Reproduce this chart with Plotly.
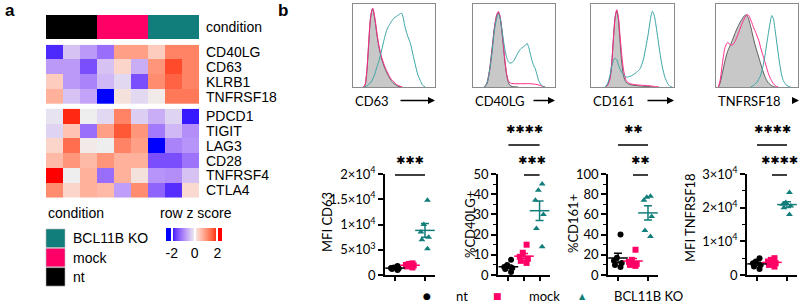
import numpy as np
import plotly.graph_objects as go

# ---------------- data ----------------
conditions = ["nt", "mock", "BCL11B KO"]
samples_condition = [0, 0, 0, 1, 1, 1, 2, 2, 2]

genes_top = ["CD40LG", "CD63", "KLRB1", "TNFRSF18"]
z_top = [
    [-1.8, -0.4, -0.8, -1.2, 0.9, 0.9, 0.4, 1.2, 1.2],
    [-0.8, -0.8, -1.5, -0.4, 0.3, -0.6, 1.0, 1.7, 1.2],
    [0.4, -0.8, -1.0, -0.5, -0.2, -1.5, 1.1, 1.5, 1.2],
    [0.7, -0.4, -0.7, -2.2, 0.15, -0.2, 0.05, 1.3, 1.3],
]
genes_bottom = ["PDCD1", "TIGIT", "LAG3", "CD28", "TNFRSF4", "CTLA4"]
z_bottom = [
    [-0.1, 1.9, 0.0, -0.2, 1.2, -0.3, -0.6, -0.25, -1.9],
    [-0.25, 0.5, -1.2, 0.9, 1.6, 1.0, -1.1, -0.5, -0.9],
    [0.3, 1.4, 0.05, 0.0, 1.2, 0.9, -2.0, -1.0, -0.85],
    [0.6, 1.0, 0.6, 1.0, 0.7, 0.7, -1.5, -1.5, -1.15],
    [2.3, 0.0, 0.7, -1.2, 0.7, 0.15, -0.85, -0.9, -0.4],
    [1.1, 0.3, 0.7, 0.6, -0.75, 1.1, -1.3, -1.75, 0.25],
]

# histograms (x: % of axis, y: % of modal height)
hist_labels = ["CD63", "CD40LG", "CD161", "TNFRSF18"]
cd63_nt_x = [13, 15, 17, 19, 21, 23, 24, 25, 27, 29, 31, 33, 35, 38, 41, 44, 47, 50, 53, 56, 60]
cd63_nt_y = [0, 3, 20, 50, 80, 93, 95, 92, 80, 65, 52, 42, 34, 25, 18, 12, 7, 4, 2, 0.5, 0]
cd63_mock_x = [13, 15, 17, 19, 21, 23, 24, 25, 27, 29, 31, 33, 35, 38, 41, 44, 47, 50, 53, 56, 60]
cd63_mock_y = [0, 4, 22, 52, 82, 94, 96, 93, 82, 67, 54, 44, 36, 27, 20, 14, 9, 6, 3, 1.5, 0]
cd63_ko_x = [14, 18, 22, 26, 29, 32, 35, 38, 41, 44, 47, 50, 53, 56, 59, 61, 63, 66, 70, 73, 76, 79, 82, 85, 88]
cd63_ko_y = [0, 2, 6, 14, 24, 33, 45, 58, 69, 75, 80, 84, 86, 88, 90, 85, 75, 64, 53, 40, 27, 15, 8, 2, 0]

cd40lg_nt_x = [14, 17, 20, 23, 26, 29, 31, 33, 35, 37, 39, 41, 43, 45, 48, 55]
cd40lg_nt_y = [0, 5, 20, 45, 72, 88, 91, 85, 70, 50, 30, 15, 6, 2, 0.5, 0]
cd40lg_mock_x = [14, 17, 20, 23, 26, 29, 31, 33, 35, 37, 39, 41, 43, 45, 50, 60, 70, 78, 83, 88]
cd40lg_mock_y = [0, 4, 18, 42, 70, 88, 92, 86, 72, 52, 32, 16, 8, 5, 4, 4, 4, 3, 1.5, 0]
cd40lg_ko_x = [14, 17, 20, 23, 26, 29, 31, 33, 35, 37, 39, 41, 43, 45, 48, 51, 54, 57, 60, 63, 66, 68, 70, 72, 74, 76, 78, 80, 82, 85, 88]
cd40lg_ko_y = [0, 4, 18, 40, 68, 84, 89, 84, 72, 58, 45, 36, 31, 29, 30, 34, 40, 45, 48, 50, 53, 48, 40, 32, 26, 22, 15, 8, 4, 1, 0]

cd161_nt_x = [17, 20, 23, 25, 27, 29, 31, 33, 35, 37, 39, 41, 43, 47, 52, 57, 62, 70, 75]
cd161_nt_y = [0, 3, 12, 30, 60, 85, 93, 82, 55, 30, 15, 8, 5, 3, 2, 1.5, 1, 0.5, 0]
cd161_mock_x = [17, 20, 23, 25, 27, 29, 31, 33, 35, 37, 39, 41, 43, 47, 52, 57, 62, 70, 78, 82]
cd161_mock_y = [0, 2, 10, 28, 58, 84, 94, 86, 62, 40, 22, 12, 7, 4, 3, 2.5, 2, 1.5, 0.5, 0]
cd161_ko_x = [17, 20, 23, 25, 27, 29, 31, 33, 35, 37, 39, 41, 43, 47, 51, 55, 59, 63, 66, 69, 72, 74, 76, 78, 80, 83, 86, 89, 92, 95, 98]
cd161_ko_y = [0, 4, 15, 25, 32, 35, 33, 27, 22, 18, 15, 13, 12, 13, 15, 18, 22, 33, 48, 65, 85, 92, 88, 77, 63, 42, 24, 12, 5, 1, 0]

tnf_nt_x = [3, 5, 8, 11, 14, 17, 20, 23, 26, 29, 32, 35, 37, 39, 42, 45, 48, 51, 54, 57, 60, 63, 66, 70, 73]
tnf_nt_y = [0, 5, 18, 32, 43, 50, 57, 65, 72, 78, 83, 87, 88, 85, 75, 62, 50, 40, 30, 20, 12, 6, 3, 0.5, 0]
tnf_mock_x = [3, 5, 8, 11, 14, 17, 20, 23, 26, 29, 32, 35, 38, 40, 43, 46, 49, 52, 55, 58, 61, 64, 67, 70, 73, 76]
tnf_mock_y = [0, 8, 30, 48, 54, 52, 51, 55, 62, 70, 78, 84, 88, 87, 80, 72, 65, 57, 46, 36, 26, 16, 9, 4, 1, 0]
tnf_ko_x = [42, 46, 50, 54, 57, 60, 63, 66, 68, 70, 72, 74, 76, 78, 80, 82, 85, 88, 91]
tnf_ko_y = [0, 2, 6, 13, 24, 40, 60, 78, 87, 83, 70, 55, 40, 26, 15, 8, 3, 1, 0]

hist_data = [
    [(cd63_nt_x, cd63_nt_y), (cd63_mock_x, cd63_mock_y), (cd63_ko_x, cd63_ko_y)],
    [(cd40lg_nt_x, cd40lg_nt_y), (cd40lg_mock_x, cd40lg_mock_y), (cd40lg_ko_x, cd40lg_ko_y)],
    [(cd161_nt_x, cd161_nt_y), (cd161_mock_x, cd161_mock_y), (cd161_ko_x, cd161_ko_y)],
    [(tnf_nt_x, tnf_nt_y), (tnf_mock_x, tnf_mock_y), (tnf_ko_x, tnf_ko_y)],
]

# scatter panels
mfi_cd63_nt = [1000, 1200, 1300, 1400, 1500, 1800]
mfi_cd63_mock = [1500, 1700, 1900, 2000, 2200, 2300]
mfi_cd63_ko = [14800, 10000, 8500, 7500, 7000, 5200]

pct_cd40lg_nt = [7.5, 5, 4, 3.5, 3, 1.5]
pct_cd40lg_mock = [15, 11, 9, 8, 7, 6]
pct_cd40lg_ko = [45, 42, 37, 30, 23, 14]

pct_cd161_nt = [40, 17, 14, 12, 10, 8]
pct_cd161_mock = [25, 15, 13, 11, 10, 9]
pct_cd161_ko = [78, 77, 74, 58, 44, 38]

mfi_tnf_nt = [5000, 4000, 3500, 3000, 2500, 1800]
mfi_tnf_mock = [5000, 4500, 4000, 3500, 3000, 2500]
mfi_tnf_ko = [24500, 21500, 21000, 20500, 20000, 18000]

scatter_titles = ["MFI CD63", "%CD40LG+", "%CD161+", "MFI TNFRSF18"]
scatter_values = [
    [mfi_cd63_nt, mfi_cd63_mock, mfi_cd63_ko],
    [pct_cd40lg_nt, pct_cd40lg_mock, pct_cd40lg_ko],
    [pct_cd161_nt, pct_cd161_mock, pct_cd161_ko],
    [mfi_tnf_nt, mfi_tnf_mock, mfi_tnf_ko],
]
scatter_ranges = [20000, 50, 100, 30000]
tick_vals = [
    [0, 5000, 10000, 15000, 20000],
    [0, 10, 20, 30, 40, 50],
    [0, 20, 40, 60, 80, 100],
    [0, 10000, 20000, 30000],
]
tick_text = [
    ["0", "5×10<sup>3</sup>", "1×10<sup>4</sup>", "1.5×10<sup>4</sup>", "2×10<sup>4</sup>"],
    ["0", "10", "20", "30", "40", "50"],
    ["0", "20", "40", "60", "80", "100"],
    ["0", "1×10<sup>4</sup>", "2×10<sup>4</sup>", "3×10<sup>4</sup>"],
]
minor_dtick = [None, 5, 10, 5000]
# significance: (group a, group b, label)
significance = [
    [(0, 2, "✱✱✱")],
    [(0, 2, "✱✱✱✱"), (1, 2, "✱✱✱")],
    [(0, 2, "✱✱"), (1, 2, "✱✱")],
    [(0, 2, "✱✱✱✱"), (1, 2, "✱✱✱✱")],
]

# ---------------- styles ----------------
W, H = 800, 304
P = lambda px: px / W
Q = lambda py: 1 - py / H
COND_COL = ["#000000", "#ff0066", "#117e7b"]
HIST_COL = ["#3c3c3c", "#ff2a8a", "#3aa5a6"]
SYMBOLS = ["circle", "square", "triangle-up"]
LEGEND_GLYPH = ["●", "■", "▲"]
ARIAL = "Liberation Sans, Arial, sans-serif"
CAL = "Lato, Open Sans, sans-serif"


# LAB interpolated colour ramp: blue (-2) -> #EEEEEE (0) -> red (2)
def to_lab(c):
    rgb = [int(c[i:i + 2], 16) / 255 for i in (1, 3, 5)]
    lin = [v / 12.92 if v <= 0.04045 else ((v + 0.055) / 1.055) ** 2.4 for v in rgb]
    r, g, b = lin
    X = (0.4124 * r + 0.3576 * g + 0.1805 * b) / 0.95047
    Y = 0.2126 * r + 0.7152 * g + 0.0722 * b
    Z = (0.0193 * r + 0.1192 * g + 0.9505 * b) / 1.08883
    f = lambda t: t ** (1 / 3) if t > 0.008856 else 7.787 * t + 16 / 116
    return (116 * f(Y) - 16, 500 * (f(X) - f(Y)), 200 * (f(Y) - f(Z)))


def from_lab(L, a, b):
    fy = (L + 16) / 116
    fx = fy + a / 500
    fz = fy - b / 200
    finv = lambda t: t ** 3 if t ** 3 > 0.008856 else (t - 16 / 116) / 7.787
    X, Y, Z = finv(fx) * 0.95047, finv(fy), finv(fz) * 1.08883
    r = 3.2406 * X - 1.5372 * Y - 0.4986 * Z
    g = -0.9689 * X + 1.8758 * Y + 0.0415 * Z
    bb = 0.0557 * X - 0.2040 * Y + 1.0570 * Z
    out = []
    for v in (r, g, bb):
        v = max(0.0, min(1.0, v))
        v = 12.92 * v if v <= 0.0031308 else 1.055 * v ** (1 / 2.4) - 0.055
        out.append(int(round(max(0, min(1, v)) * 255)))
    return "rgb(%d,%d,%d)" % tuple(out)


ZMIN, ZMAX = -2.5, 2.4
lab_b, lab_w, lab_r = to_lab("#0000ff"), to_lab("#eeeeee"), to_lab("#ff0000")
cscale = []
for v in np.linspace(ZMIN, ZMAX, 50):
    if v <= 0:
        t = min(1.0, -v / 2)
        c = [lab_w[i] + (lab_b[i] - lab_w[i]) * t for i in range(3)]
    else:
        t = min(1.0, v / 2)
        c = [lab_w[i] + (lab_r[i] - lab_w[i]) * t for i in range(3)]
    cscale.append([(v - ZMIN) / (ZMAX - ZMIN), from_lab(*c)])

fig = go.Figure()
layout = dict(width=W, height=H, margin=dict(l=0, r=0, t=0, b=0, pad=0, autoexpand=False),
              paper_bgcolor="white", plot_bgcolor="white", boxmode="overlay",
              showlegend=False)
annotations, shapes = [], []


def txt(text, x, y, size=14, family=ARIAL, anchor="left", color="black", **kw):
    d = dict(text=text, x=P(x), y=Q(y), xref="paper", yref="paper", xanchor=anchor,
             yanchor="middle", showarrow=False, font=dict(family=family, size=size, color=color))
    d.update(kw)
    annotations.append(d)


hm_x = [P(46), P(199)]
blank = dict(showgrid=False, zeroline=False, showticklabels=False, ticks="", showline=False)

# condition bar
fig.add_trace(go.Heatmap(z=[samples_condition], zmin=0, zmax=2, showscale=False,
                         colorscale=[[0, COND_COL[0]], [0.333, COND_COL[0]], [0.334, COND_COL[1]],
                                     [0.666, COND_COL[1]], [0.667, COND_COL[2]], [1, COND_COL[2]]],
                         xaxis="x", yaxis="y", hoverinfo="skip"))
layout["xaxis"] = dict(domain=hm_x, anchor="y", range=[-0.5, 8.5], **blank)
layout["yaxis"] = dict(domain=[Q(39), Q(15)], anchor="x", range=[-0.5, 0.5], **blank)
txt("condition", 204, 27)

for k, (genes, z, yd, axn) in enumerate([(genes_top, z_top, [Q(104), Q(44.7)], 2),
                                         (genes_bottom, z_bottom, [Q(197.7), Q(108.7)], 3)]):
    tr = dict(z=z, zmin=ZMIN, zmax=ZMAX, colorscale=cscale, xaxis="x%d" % axn,
              yaxis="y%d" % axn, hoverinfo="skip", showscale=(k == 0))
    if k == 0:
        tr["colorbar"] = dict(orientation="h", x=P(194), xanchor="center", y=Q(227.7),
                              yanchor="top", len=56, lenmode="pixels", thickness=13,
                              thicknessmode="pixels", xpad=0, ypad=0, outlinewidth=0,
                              tickvals=[-2, 0, 2], ticktext=["-2", "0", "2"],
                              ticks="inside", ticklen=13, tickcolor="white", tickwidth=1.5,
                              tickfont=dict(family=ARIAL, size=14, color="black"))
    fig.add_trace(go.Heatmap(**tr))
    layout["xaxis%d" % axn] = dict(domain=hm_x, anchor="y%d" % axn, range=[-0.5, 8.5], **blank)
    layout["yaxis%d" % axn] = dict(domain=yd, anchor="x%d" % axn,
                                   range=[len(genes) - 0.5, -0.5], **blank)
    for i, g in enumerate(genes):
        annotations.append(dict(text=g, x=P(204), y=i, xref="paper", yref="y%d" % axn,
                                xanchor="left", yanchor="middle", showarrow=False,
                                font=dict(family=ARIAL, size=14, color="black")))

# heatmap legends
txt("condition", 46, 213)
txt("row z score", 158, 213)
for j, ci in enumerate([2, 1, 0]):
    top = 229 + j * 19.3
    shapes.append(dict(type="rect", xref="paper", yref="paper", x0=P(46), x1=P(65),
                       y0=Q(top + 18.5), y1=Q(top), fillcolor=COND_COL[ci],
                       line=dict(color="#bbbbbb", width=0.6)))
    txt(conditions[ci], 71, top + 9.3)

txt("<b>a</b>", 3, 10, size=17)
txt("<b>b</b>", 276, 10, size=17)

# histograms
hist_dom = [(353, 435), (473, 555), (591, 674), (716, 798)]
arrow_start = [399, 532, 646, 792]
arrow_end = [435, 555, 674, 800]
for p in range(4):
    axn = 4 + p
    for gi, (xs, ys) in enumerate(hist_data[p]):
        tr = dict(x=xs, y=ys, mode="lines",
                  line=dict(color=HIST_COL[gi], width=1, shape="spline", smoothing=0.6),
                  xaxis="x%d" % axn, yaxis="y%d" % axn, showlegend=False, hoverinfo="skip")
        if gi == 0:
            tr.update(fill="tozeroy", fillcolor="#c8c8c8",
                      line=dict(color=HIST_COL[0], width=0.8, shape="spline", smoothing=0.6))
        fig.add_trace(go.Scatter(**tr))
    frame = dict(showline=True, mirror=True, linecolor="#8a8a8a", linewidth=1,
                 showgrid=False, zeroline=False, showticklabels=False, ticks="")
    layout["xaxis%d" % axn] = dict(domain=[P(hist_dom[p][0]), P(hist_dom[p][1])],
                                   anchor="y%d" % axn, range=[0, 100], **frame)
    layout["yaxis%d" % axn] = dict(domain=[Q(87), Q(4)], anchor="x%d" % axn,
                                   range=[0, 101], **frame)
    txt(hist_labels[p], hist_dom[p][0], 101, size=13, family=CAL)
    annotations.append(dict(text="", x=P(arrow_end[p]), y=Q(100.5), xref="paper", yref="paper",
                            ax=-(arrow_end[p] - arrow_start[p]), ay=0, axref="pixel",
                            ayref="pixel", showarrow=True, arrowhead=2, arrowsize=1,
                            arrowwidth=1.4, arrowcolor="black"))

# scatter panels
sc_dom = [(385, 435), (498, 550), (608, 658), (747, 797)]
title_x = [327, 470, 573, 690]
title_y = [222, 225, 224, 218]
for p in range(4):
    axn = 8 + p
    xa, ya = "x%d" % axn, "y%d" % axn
    for gi in range(3):
        vals = scatter_values[p][gi]
        fig.add_trace(go.Box(x=[conditions[gi]] * len(vals), y=vals, boxpoints="all",
                             jitter=0.85, pointpos=0, width=0.75,
                             fillcolor="rgba(0,0,0,0)", line=dict(color="rgba(0,0,0,0)"),
                             marker=dict(color=COND_COL[gi], symbol=SYMBOLS[gi], size=6),
                             xaxis=xa, yaxis=ya, showlegend=False, hoverinfo="skip"))
        arr = np.array(vals, dtype=float)
        m = arr.mean()
        sem = arr.std(ddof=1) / np.sqrt(len(arr))
        fig.add_trace(go.Scatter(x=[conditions[gi]], y=[m], mode="markers",
                                 marker=dict(symbol="line-ew", size=14,
                                             line=dict(color=COND_COL[gi], width=1.5)),
                                 error_y=dict(type="data", array=[sem], color=COND_COL[gi],
                                              thickness=1.5, width=4),
                                 xaxis=xa, yaxis=ya, showlegend=False, hoverinfo="skip"))
    layout["xaxis%d" % axn] = dict(domain=[P(sc_dom[p][0]), P(sc_dom[p][1])], anchor=ya,
                                   type="category", categoryorder="array",
                                   categoryarray=conditions, range=[-0.67, 2.67],
                                   showline=True, linecolor="black", linewidth=1.5,
                                   ticks="outside", ticklen=4, tickwidth=1.5, tickcolor="black",
                                   showticklabels=False, showgrid=False, zeroline=False)
    yax = dict(domain=[Q(275), Q(174)], anchor=xa, range=[0, scatter_ranges[p]],
               showline=True, linecolor="black", linewidth=1.5, ticks="outside", ticklen=5,
               tickwidth=1.5, tickcolor="black", tickvals=tick_vals[p], ticktext=tick_text[p],
               tickfont=dict(family=CAL, size=13, color="black"), showgrid=False,
               zeroline=False)
    if minor_dtick[p]:
        yax["minor"] = dict(dtick=minor_dtick[p], ticks="outside", ticklen=3, tickwidth=1.2,
                            tickcolor="black", showgrid=False)
    layout["yaxis%d" % axn] = yax
    txt(scatter_titles[p], title_x[p], title_y[p], size=13, family=CAL, anchor="center",
        textangle=-90)
    for si, (a, b, lab) in enumerate(significance[p]):
        level = len(significance[p]) - 1 - si
        ly = 175 - 30 * level
        shapes.append(dict(type="line", xref=xa, yref="paper", x0=a, x1=b, y0=Q(ly), y1=Q(ly),
                           line=dict(color="black", width=1.5)))
        annotations.append(dict(text=lab, x=(a + b) / 2, y=Q(ly - 15), xref=xa, yref="paper",
                                xanchor="center", yanchor="middle", showarrow=False,
                                font=dict(family="DejaVu Sans", size=11, color="black")))

# bottom legend
legend_sym_x = [427, 497, 582]
legend_txt_x = [454, 527, 612]
legend_sym_size = [9, 9, 8]
for gi in range(3):
    txt(LEGEND_GLYPH[gi], legend_sym_x[gi], 296, size=legend_sym_size[gi], family="DejaVu Sans",
        anchor="center", color=COND_COL[gi])
    txt(conditions[gi], legend_txt_x[gi], 296, size=13, family=CAL)

layout["annotations"] = annotations
layout["shapes"] = shapes
fig.update_layout(**layout)
fig.write_html("out.html", config={"displayModeBar": False},
               post_script="document.body.style.margin='0';document.body.style.overflow='hidden';"
                           "document.documentElement.style.overflow='hidden';")
